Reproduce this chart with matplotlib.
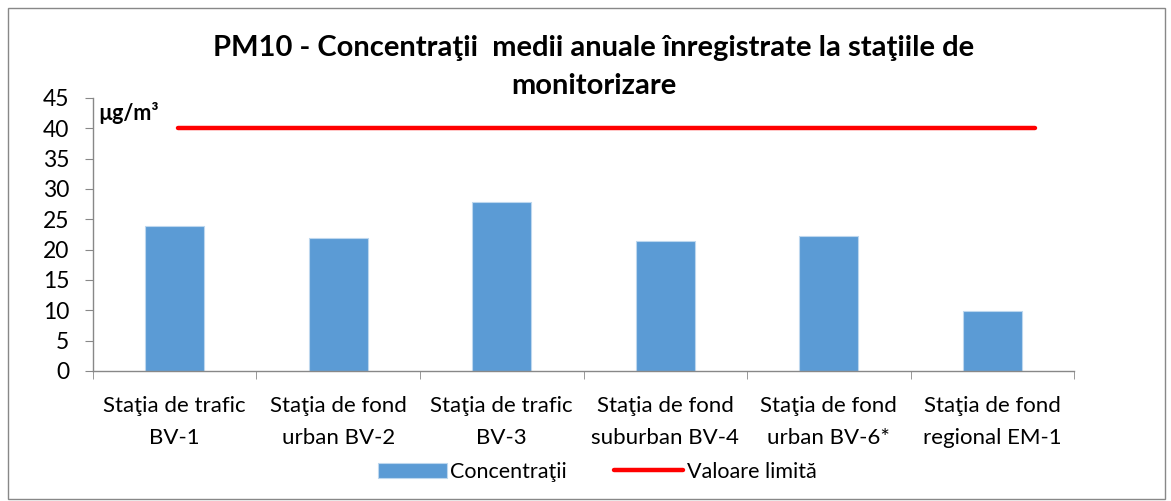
import matplotlib.pyplot as plt
from matplotlib.patches import Rectangle
import numpy as np

plt.rcParams['font.family'] = ['Lato', 'DejaVu Sans']

categories = ['Staţia de trafic\nBV-1', 'Staţia de fond\nurban BV-2', 'Staţia de trafic\nBV-3',
              'Staţia de fond\nsuburban BV-4', 'Staţia de fond\nurban BV-6*', 'Staţia de fond\nregional EM-1']
concentratii = [23.9, 22.0, 27.9, 21.5, 22.2, 9.9]
valoare_limita = [40, 40]

fig = plt.figure(figsize=(11.71, 5.01), dpi=100)
ax = fig.add_axes([0.0794, 0.2595, 0.8378, 0.545])

x = np.arange(len(categories))
bars = ax.bar(x, concentratii, width=0.36, color='#5B9BD5', edgecolor='#BDD7EE', linewidth=0.8,
              label='Concentraţii', zorder=2)
line, = ax.plot([0.02, 5.26], valoare_limita, color='#FF0000', linewidth=3.2, solid_capstyle='round',
                label='Valoare limită', zorder=3)

ax.set_xlim(-0.5, len(categories) - 0.5)
ax.set_ylim(0, 45)
ax.set_yticks(range(0, 46, 5))
ax.set_xticks(x)
ax.set_xticklabels(categories, fontsize=16, linespacing=1.75)
ax.set_xticks(np.arange(-0.5, len(categories), 1), minor=True)
ax.tick_params(axis='x', which='major', length=0, pad=18)
ax.tick_params(axis='x', which='minor', length=6, color='#888888', direction='out')
ax.tick_params(axis='y', length=6, color='#888888', labelsize=16.5, pad=11)

for side in ['top', 'right']:
    ax.spines[side].set_visible(False)
for side in ['left', 'bottom']:
    ax.spines[side].set_color('#888888')
    ax.spines[side].set_linewidth(1)

ax.text(0.005, 0.985, 'µg/m³', transform=ax.transAxes, fontsize=15.5, fontweight='bold',
        va='top', ha='left')

fig.text(0.507, 0.93, 'PM10 - Concentraţii  medii anuale înregistrate la staţiile de\nmonitorizare',
         ha='center', va='top', fontsize=21, fontweight='bold', linespacing=1.55)

fig.legend([bars, line], ['Concentraţii', 'Valoare limită'], loc='lower center',
           bbox_to_anchor=(0.51, 0.0), ncol=2, frameon=False,
           fontsize=15.5, handlelength=3.2, columnspacing=2.2, handletextpad=0.15)

fig.patches.append(Rectangle((0.007, 0.004), 0.988, 0.98, transform=fig.transFigure,
                             fill=False, edgecolor='#888888', linewidth=1))

fig.savefig('out.png', dpi=100)
